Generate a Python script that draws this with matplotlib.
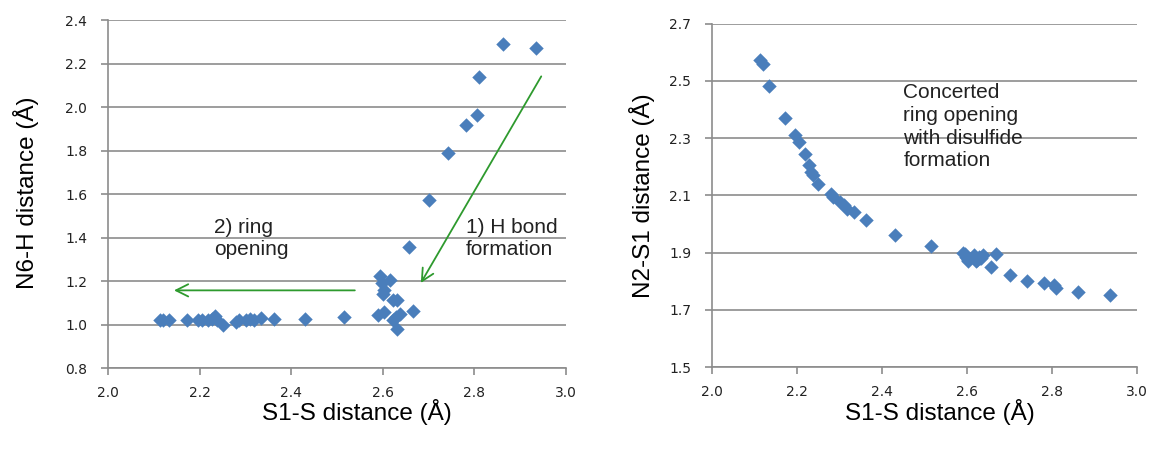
import matplotlib.pyplot as plt
import numpy as np

# S1-S distance (shared x), N6-H distance (left), N2-S1 distance (right)
s1s = [2.113, 2.120, 2.133, 2.172, 2.196, 2.205, 2.219, 2.228, 2.233, 2.238,
       2.250, 2.279, 2.285, 2.302, 2.310, 2.318, 2.334, 2.362, 2.430, 2.516,
       2.590, 2.594, 2.598, 2.603, 2.600, 2.603, 2.616, 2.623, 2.630, 2.628,
       2.622, 2.632, 2.638, 2.657, 2.667, 2.700, 2.742, 2.781, 2.805, 2.810,
       2.862, 2.935]
n6h = [1.020, 1.020, 1.020, 1.020, 1.020, 1.020, 1.020, 1.025, 1.040, 1.020,
       1.000, 1.010, 1.020, 1.020, 1.025, 1.020, 1.030, 1.025, 1.025, 1.035,
       1.042, 1.222, 1.190, 1.157, 1.140, 1.058, 1.204, 1.111, 1.111, 1.035,
       1.020, 0.981, 1.050, 1.357, 1.061, 1.573, 1.788, 1.918, 1.964, 2.136,
       2.290, 2.270]
n2s1 = [2.572, 2.558, 2.481, 2.372, 2.312, 2.287, 2.243, 2.205, 2.182, 2.170,
        2.141, 2.106, 2.095, 2.075, 2.065, 2.054, 2.042, 2.013, 1.963, 1.923,
        1.900, 1.895, 1.885, 1.875, 1.880, 1.870, 1.890, 1.875, 1.880, 1.885,
        1.870, 1.880, 1.890, 1.850, 1.894, 1.823, 1.800, 1.792, 1.786, 1.776,
        1.762, 1.751]

blue = '#4a7ebb'
grey = '#8c8c8c'
green = '#2e9a2e'
lab_font = 'Liberation Sans'

fig = plt.figure(figsize=(11.49, 4.5), dpi=100)
ax1 = fig.add_axes([0.094, 0.1822, 0.3986, 0.7733])
ax2 = fig.add_axes([0.6197, 0.1844, 0.370, 0.763])


def style(ax, yticks):
    ax.set_xlim(2.0, 3.0)
    ax.set_xticks(np.arange(2.0, 3.01, 0.2))
    ax.set_ylim(yticks[0], yticks[-1])
    ax.set_yticks(yticks)
    ax.xaxis.set_major_formatter(plt.FormatStrFormatter('%.1f'))
    ax.yaxis.set_major_formatter(plt.FormatStrFormatter('%.1f'))
    ax.grid(axis='y', color=grey, lw=1.2)
    ax.set_axisbelow(True)
    for side in ['top', 'right']:
        ax.spines[side].set_visible(False)
    for side in ['left', 'bottom']:
        ax.spines[side].set_color(grey)
        ax.spines[side].set_linewidth(1.2)
    ax.tick_params(axis='both', colors=grey, labelcolor='#222222', labelsize=10,
                   length=5, width=1.2)
    ax.tick_params(axis='y', pad=10)
    ax.tick_params(axis='x', pad=8)


ax1.scatter(s1s, n6h, marker='D', s=54, color=blue, zorder=3, linewidths=0)
style(ax1, np.arange(0.8, 2.41, 0.2))
ax1.set_xlabel('S1-S distance (Å)', fontsize=17.5, family=lab_font)
ax1.set_ylabel('N6-H distance (Å)', fontsize=17.5, family=lab_font)
ax1.xaxis.set_label_coords(0.544, -0.088)
ax1.yaxis.set_label_coords(-0.15, 0.505)

ax1.annotate('', xy=(2.68, 1.18), xytext=(2.949, 2.152),
             arrowprops=dict(arrowstyle='->', color=green, lw=1.3,
                             mutation_scale=22))
ax1.annotate('', xy=(2.138, 1.157), xytext=(2.545, 1.157),
             arrowprops=dict(arrowstyle='->', color=green, lw=1.3,
                             mutation_scale=22))
ax1.text(2.231, 1.49, '2) ring\nopening', fontsize=15, family=lab_font,
         color='#222222', va='top', ha='left', linespacing=1.2)
ax1.text(2.782, 1.49, '1) H bond\nformation', fontsize=15, family=lab_font,
         color='#222222', va='top', ha='left', linespacing=1.2)

ax2.scatter(s1s, n2s1, marker='D', s=54, color=blue, zorder=3, linewidths=0)
style(ax2, np.arange(1.5, 2.71, 0.2))
ax2.set_xlabel('S1-S distance (Å)', fontsize=17.5, family=lab_font)
ax2.set_ylabel('N2-S1 distance (Å)', fontsize=17.5, family=lab_font)
ax2.xaxis.set_label_coords(0.536, -0.092)
ax2.yaxis.set_label_coords(-0.135, 0.5)
ax2.text(2.45, 2.492, 'Concerted\nring opening\nwith disulfide\nformation',
         fontsize=15, family=lab_font, color='#222222', va='top', ha='left',
         linespacing=1.25)

plt.savefig('out.png', dpi=100)
